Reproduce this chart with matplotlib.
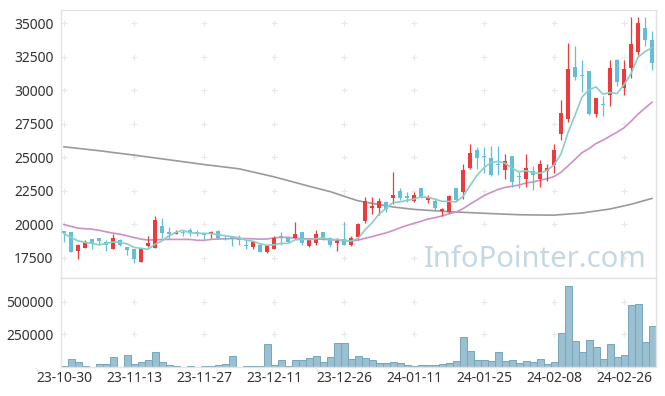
import numpy as np
import pandas as pd
import matplotlib
matplotlib.use("Agg")
import matplotlib.pyplot as plt

plt.rcParams['font.family'] = ['Noto Sans', 'DejaVu Sans']

#%%==============================================================================
# Data (daily candles, 85 trading days)

opens = [19500, 19400, 18050, 18250, 18900, 19000, 18700, 18200, 18850, 18300,
         18150, 17200, 18400, 18250, 19880, 19420, 19300, 19420, 19570, 19420,
         19320, 19270, 19520, 18970, 19050, 18980, 18450, 18300, 18450, 17920,
         18130, 19120, 18970, 18980, 19400, 18420, 18580, 19420, 19020, 18580,
         18880, 18470, 19070, 20250, 21210, 21230, 21680, 22000, 22480, 22100,
         21710, 22680, 21830, 21760, 20970, 20900, 22730, 22440, 24200, 25540,
         25050, 24980, 24500, 24050, 25090, 23600, 23400, 23980, 23380, 24000,
         24470, 26780, 27900, 31760, 31150, 31450, 28250, 28920, 29650, 32300,
         30150, 31700, 32900, 34630, 33750]
highs = [19520, 19450, 18550, 18850, 18900, 19000, 18800, 19250, 18900, 18300,
         18200, 18250, 19170, 20650, 20450, 19800, 19600, 19600, 19700, 19550,
         19450, 19500, 19550, 19120, 19100, 19200, 18820, 18700, 18620, 18500,
         19100, 19450, 19000, 20150, 19420, 18950, 19550, 19450, 19050, 19000,
         20150, 19100, 20130, 22050, 22050, 21950, 21750, 23880, 22700, 22400,
         22400, 22700, 22170, 21950, 21250, 22200, 22750, 24500, 25980, 25800,
         25800, 25850, 25850, 25250, 25100, 23900, 25250, 24350, 24800, 24500,
         26000, 29300, 33550, 33300, 32300, 31450, 29450, 29600, 32250, 32350,
         32260, 35500, 35450, 35450, 34400]
lows = [18650, 17950, 17450, 18250, 18150, 18450, 18030, 18180, 18400, 17700,
        17150, 17200, 18280, 18250, 18950, 18900, 19300, 19100, 19150, 19150,
        18850, 18950, 18900, 18820, 18400, 18450, 18200, 18150, 17950, 17850,
        18130, 18500, 18620, 18980, 18450, 18350, 18500, 18850, 18330, 18050,
        18450, 18400, 18900, 20100, 20800, 20700, 20950, 21550, 21800, 21700,
        21700, 21950, 21560, 21050, 20650, 20850, 21750, 21900, 24100, 24100,
        23850, 23600, 23700, 23400, 22800, 22700, 22800, 22600, 22800, 23250,
        23850, 26300, 27650, 30750, 29900, 28200, 28000, 28100, 28800, 30350,
        29650, 30900, 32650, 33300, 31500]
closes = [19350, 17950, 18450, 18600, 18620, 18750, 18480, 18980, 18450, 18100,
          17400, 18150, 18620, 20300, 19380, 19320, 19420, 19380, 19370, 19250,
          19200, 19400, 18970, 18940, 18900, 18820, 18420, 18670, 17950, 18380,
          18970, 18970, 18650, 19270, 18580, 18880, 19250, 19070, 18500, 18730,
          18470, 19020, 20000, 21730, 21360, 21710, 21180, 22170, 21980, 21950,
          22170, 22000, 22030, 21260, 21140, 22150, 21810, 24040, 25340, 24970,
          25000, 23720, 24450, 24700, 23150, 23550, 24200, 23700, 24500, 24220,
          25540, 28330, 31600, 31000, 31050, 28230, 29420, 28880, 31640, 30640,
          31570, 33450, 35050, 33760, 32050]
volumes = [5000, 64000, 41000, 11000, 3000, 26000, 26000, 80000, 3000, 95000,
           26000, 41000, 57000, 118000, 41000, 18000, 11000, 3000, 11000, 3000,
           11000, 11000, 18000, 26000, 87000, 3000, 11000, 11000, 11000, 172000,
           18000, 57000, 11000, 57000, 57000, 72000, 87000, 41000, 80000, 187000,
           182000, 64000, 82000, 72000, 57000, 34000, 34000, 41000, 34000, 18000,
           11000, 18000, 18000, 18000, 26000, 34000, 49000, 233000, 126000, 57000,
           57000, 49000, 118000, 49000, 57000, 34000, 49000, 41000, 64000, 26000,
           41000, 256000, 619000, 202000, 118000, 210000, 156000, 64000, 179000, 80000,
           95000, 473000, 481000, 189000, 310000]

# moving average values before the window is filled
ma5_head = [19320, 19020, 18780, 18650]
ma20_head = [19990, 19850, 19720, 19680, 19640, 19560, 19450, 19350, 19270, 19150,
             19020, 18900, 18830, 18860, 18870, 18880, 18880, 18880, 18880]
# 60-day average, read at a few candles
ma60_idx = [0, 5, 10, 15, 20, 25, 30, 35, 38, 42, 47, 50, 55, 60, 65, 70, 74, 78, 81, 84]
ma60_val = [25790, 25500, 25170, 24820, 24470, 24150, 23550, 22850, 22450, 21760,
            21300, 21120, 20950, 20830, 20720, 20690, 20850, 21150, 21500, 21940]

tick_pos = [0, 10, 20, 30, 40, 50, 60, 70, 80]
tick_labels = ['23-10-30', '23-11-13', '23-11-27', '23-12-11', '23-12-26',
               '24-01-11', '24-01-25', '24-02-08', '24-02-26']
price_ticks = [17500, 20000, 22500, 25000, 27500, 30000, 32500, 35000]
vol_ticks = [250000, 500000]

#%%==============================================================================
# Derived series

o = np.array(opens); h = np.array(highs); l = np.array(lows); c = np.array(closes)
x = np.arange(len(c))
ma5 = pd.Series(c).rolling(5).mean().to_numpy()
ma5[:4] = ma5_head
ma20 = pd.Series(c).rolling(20).mean().to_numpy()
ma20[:19] = ma20_head

up_col = '#ec3b3c'
dn_col = '#62bfd7'
cols = np.where(c >= o, up_col, dn_col)

#%%==============================================================================
# Figure

W, H = 665, 396
fig = plt.figure(figsize=(W / 100, H / 100), dpi=100)
left = 60.5 / W
width = 595 / W
ax1 = fig.add_axes([left, (H - 278) / H, width, 268 / H])
ax2 = fig.add_axes([left, (H - 367) / H, width, 89 / H])

frame_col = '#e3e3e3'
text_col = '#333333'
grid_col = '#e8e8e8'

for ax in (ax1, ax2):
    ax.set_xlim(-0.5, len(c) - 0.5)
    for sp in ax.spines.values():
        sp.set_color(frame_col)
        sp.set_linewidth(1.0)
    ax.tick_params(length=0, colors=text_col, labelsize=10)

# price panel
ax1.set_ylim(16000, 36000)
ax1.set_yticks(price_ticks)
ax1.set_xticks(tick_pos)
ax1.set_xticklabels([])
ax1.tick_params(axis='y', pad=5)
gx, gy = np.meshgrid(tick_pos, price_ticks)
ax1.plot(gx.ravel(), gy.ravel(), '+', color=grid_col, ms=4, mew=0.8, zorder=0)

ax1.text(0.985, 0.04, 'InfoPointer.com', transform=ax1.transAxes, ha='right',
         va='baseline', fontsize=21, color='#c4d8e4', zorder=1)

ax1.plot(ma60_idx, ma60_val, color='#9a9a9a', lw=1.2, zorder=2)
ax1.plot(x, ma20, color='#cf90c7', lw=1.2, zorder=2)

ax1.vlines(x, l, h, colors=cols, lw=0.9, zorder=3)
body_lo = np.minimum(o, c)
body_h = np.maximum(np.abs(c - o), 70)
ax1.bar(x, body_h, bottom=body_lo, width=0.7, color=cols, lw=0, zorder=4)

ax1.plot(x, ma5, color='#8ccdc6', lw=1.2, zorder=5)

# volume panel
ax2.set_ylim(0, 680000)
ax2.set_yticks(vol_ticks)
ax2.set_xticks(tick_pos)
ax2.set_xticklabels(tick_labels)
ax2.tick_params(axis='x', pad=3)
ax2.tick_params(axis='y', pad=5)
gx, gy = np.meshgrid(tick_pos, vol_ticks)
ax2.plot(gx.ravel(), gy.ravel(), '+', color=grid_col, ms=4, mew=0.8, zorder=0)
ax2.bar(x, volumes, width=1.0, color='#9bc0d2', edgecolor='#77a5bc', lw=0.7, zorder=2)

fig.savefig('out.png', dpi=100)
